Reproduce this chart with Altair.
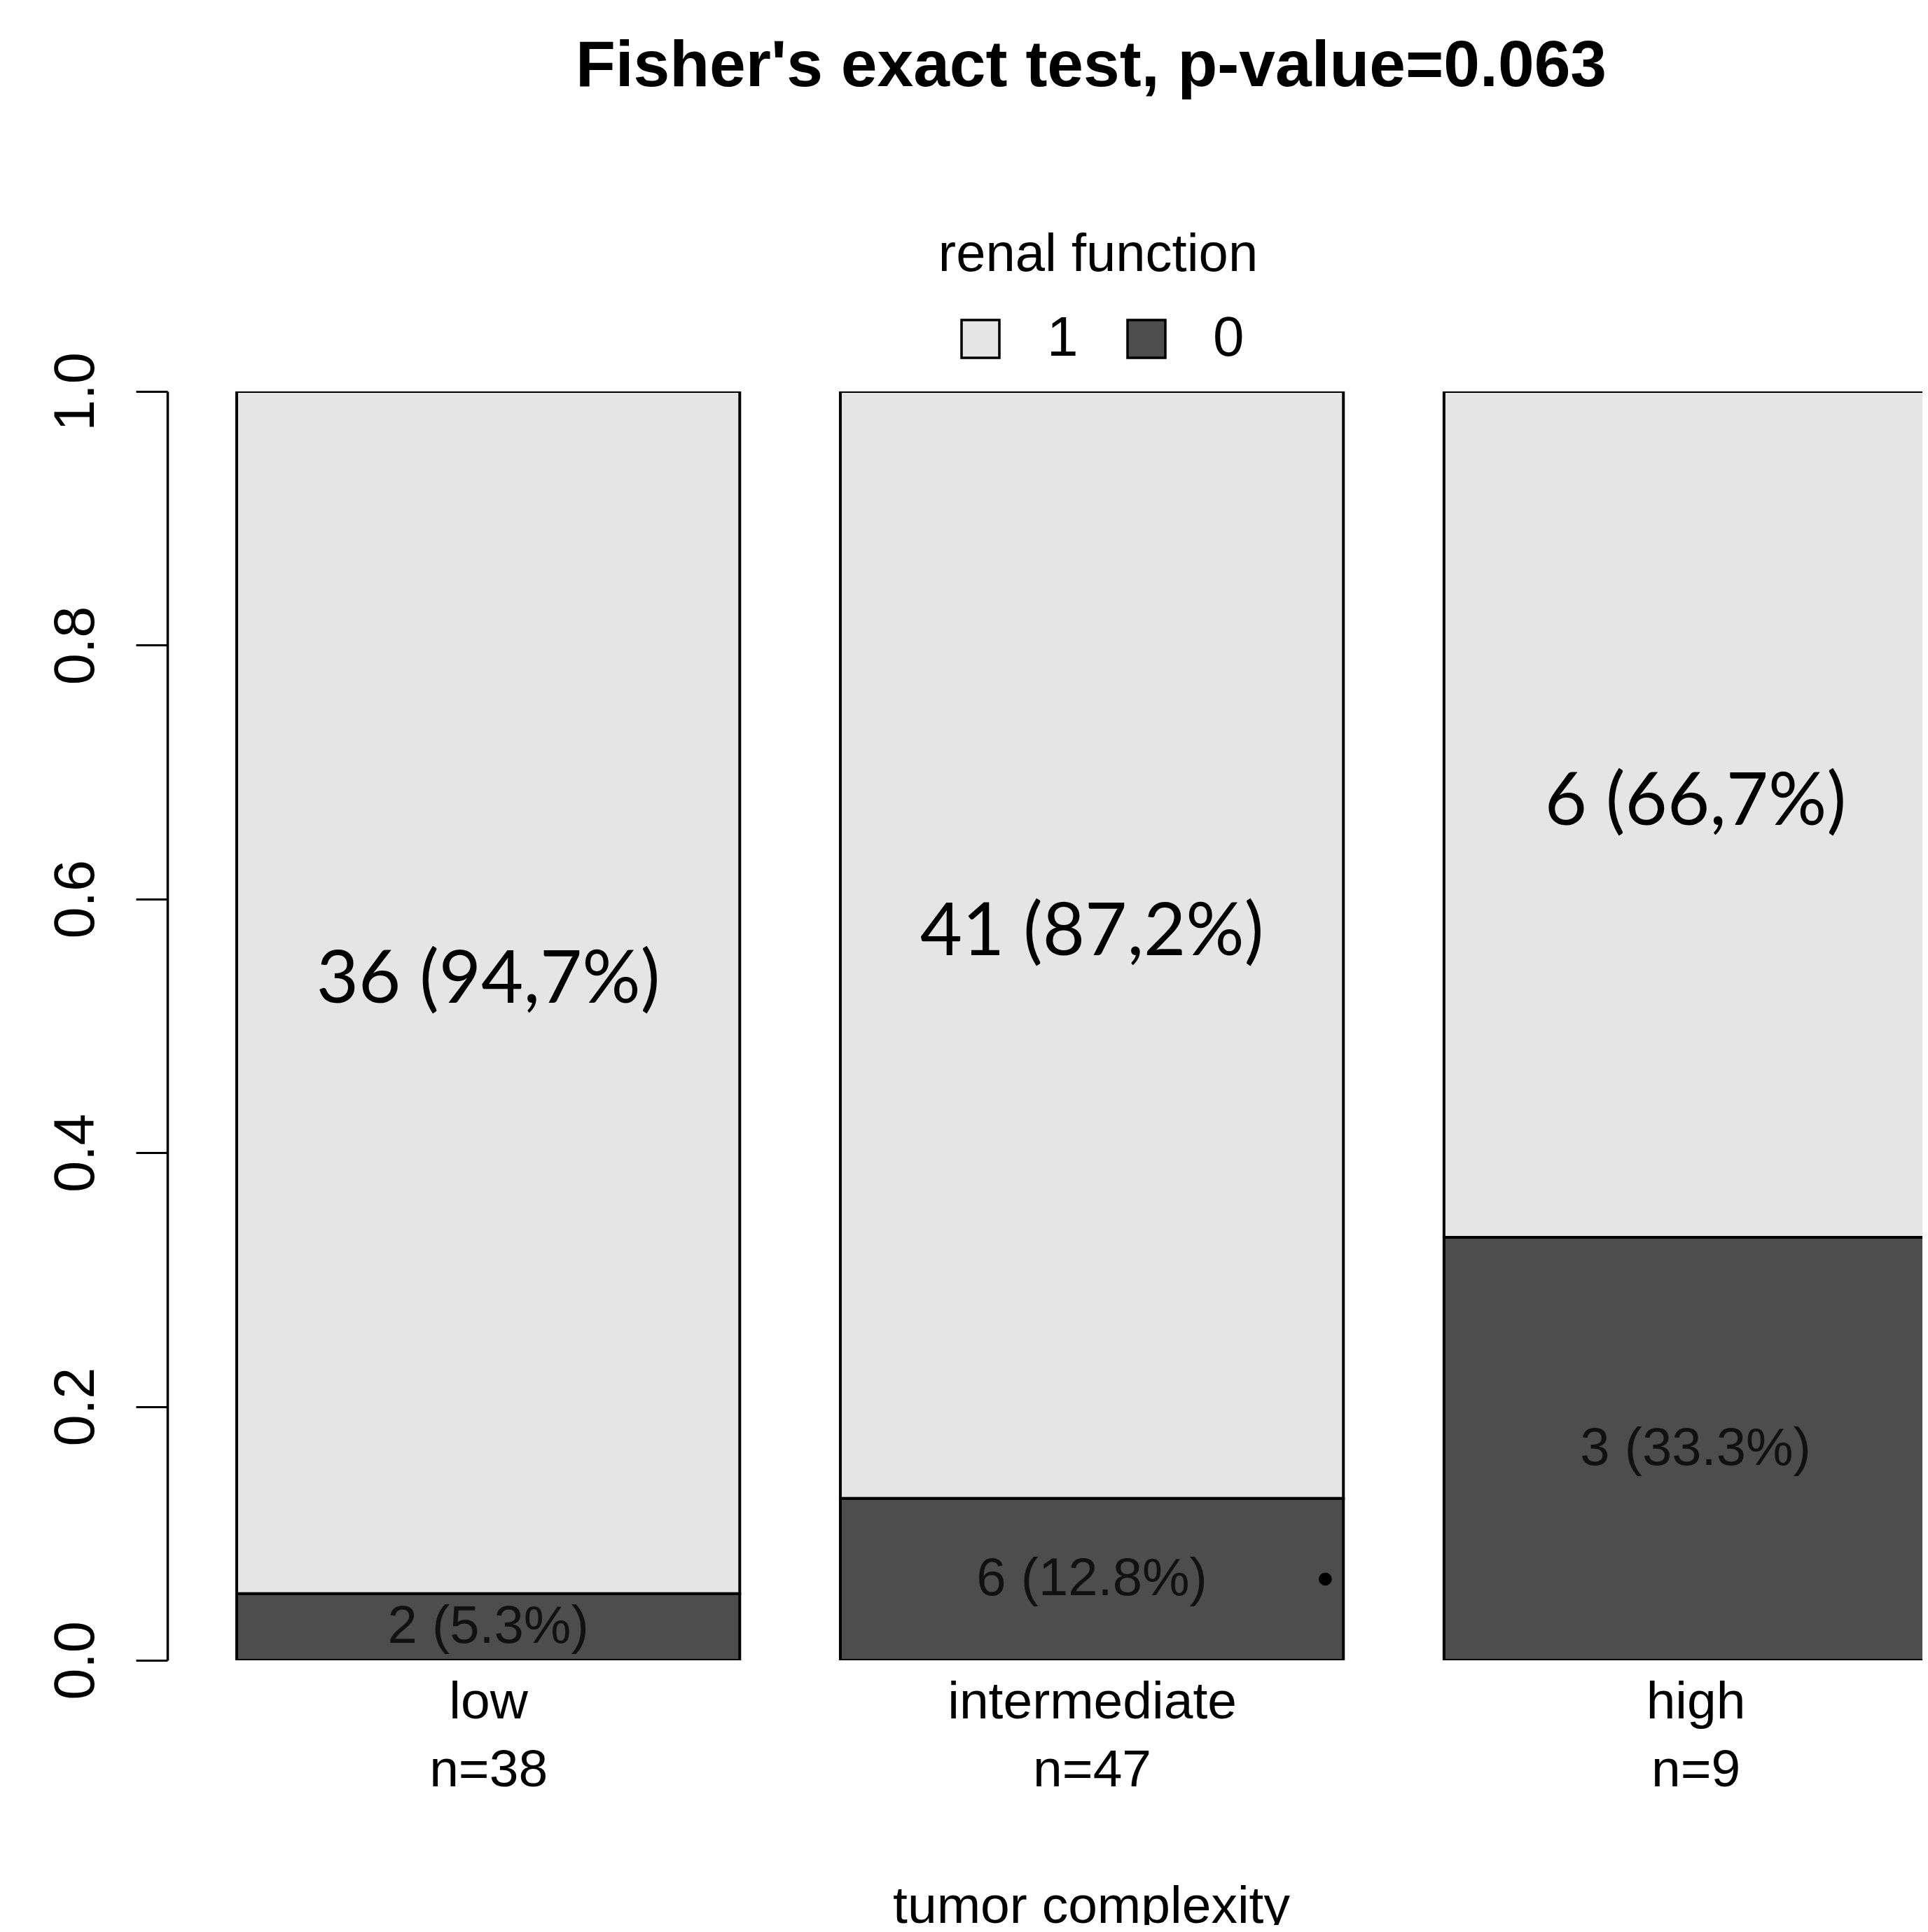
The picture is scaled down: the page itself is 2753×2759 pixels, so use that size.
import altair as alt
import pandas as pd

# ---- data ----
categories = ["low", "intermediate", "high"]
n_total = [38, 47, 9]
count_1 = [36, 41, 6]
count_0 = [2, 6, 3]
label_1 = ["36 (94,7%)", "41 (87,2%)", "6 (66,7%)"]
label_0 = ["2 (5.3%)", "6 (12.8%)", "3 (33.3%)"]
status_levels = ["1", "0"]
status_colors = ["#E5E5E5", "#4D4D4D"]
y_ticks = [0.0, 0.2, 0.4, 0.6, 0.8, 1.0]
dot_x = [2.364]
dot_y = [0.064]

# barplot layout (bar width 1, space 0.2 as in R's barplot)
BAR_W = 1.0
SPACE = 0.2

rows = []
centers = []
for i, cat in enumerate(categories):
    left = SPACE + i * (BAR_W + SPACE)
    centers.append(round(left + BAR_W / 2, 4))
    f0 = count_0[i] / n_total[i]
    f1 = (count_0[i] + count_1[i]) / n_total[i]
    rows.append(dict(cat=cat, status="0", x=left, x2=left + BAR_W, y=0.0, y2=f0,
                     ymid=f0 / 2, xmid=left + BAR_W / 2, label=label_0[i]))
    rows.append(dict(cat=cat, status="1", x=left, x2=left + BAR_W, y=f0, y2=f1,
                     ymid=(f0 + f1) / 2, xmid=left + BAR_W / 2, label=label_1[i]))
df = pd.DataFrame(rows)
dots = pd.DataFrame({"x": dot_x, "y": dot_y})

label_expr = " : ".join(
    f"abs(datum.value - {c}) < 0.01 ? ['{cat}', 'n={n}']"
    for c, cat, n in zip(centers, categories, n_total)
) + " : ''"

FONT = "Liberation Sans"
x_scale = alt.Scale(domain=[0.0622, 3.551], nice=False, zero=False)
y_scale = alt.Scale(domain=[0, 1], nice=False, zero=True)

x_axis = alt.Axis(values=centers, labelExpr=label_expr, title="tumor complexity",
                  domain=False, ticks=False, tickSize=0, grid=False,
                  labelFont=FONT, labelFontSize=75, labelColor="black",
                  labelBaseline="top", labelPadding=23, labelLineHeight=97,
                  labelFlush=False, labelOverlap=False, labelLimit=2000,
                  titleFont=FONT, titleFontSize=75, titleFontWeight="normal",
                  titleColor="black", titleX=1319, titleY=374, titleLimit=3000,
                  titleBaseline="alphabetic", titleAlign="center")
y_axis = alt.Axis(values=y_ticks, format=".1f", title=None, grid=False,
                  labelAngle=270, labelAlign="center", labelBaseline="alphabetic",
                  labelPadding=61, tickSize=45, tickWidth=3, tickColor="black",
                  domainWidth=3.5, domainColor="black", labelLimit=2000,
                  labelFont=FONT, labelFontSize=81, labelColor="black",
                  labelFlush=False, labelOverlap=False)

legend = alt.Legend(orient="none", legendX=1101, legendY=-232, direction="horizontal",
                    title="renal function", titleFont=FONT, titleFontSize=76,
                    titleFontWeight="normal", titleColor="black", titleAnchor="middle",
                    titleAlign="center", titleBaseline="top", titlePadding=41,
                    titleOrient="top", titleLimit=3000, labelLimit=2000,
                    labelFont=FONT, labelFontSize=80, labelColor="black",
                    labelOffset=55, columnPadding=57, labelBaseline="middle",
                    symbolType="square", symbolSize=2916, symbolStrokeColor="black",
                    symbolStrokeWidth=3.5, symbolOpacity=1, padding=0)

base = alt.Chart(df)

bars = base.mark_rect(stroke="black", strokeWidth=4, clip=True).encode(
    x=alt.X("x:Q", scale=x_scale, axis=x_axis),
    x2="x2:Q",
    y=alt.Y("y:Q", scale=y_scale, axis=y_axis),
    y2="y2:Q",
    color=alt.Color("status:N", scale=alt.Scale(domain=status_levels, range=status_colors),
                    legend=legend),
)

light_text = base.transform_filter(alt.datum.status == "1").mark_text(
    font="Lato", fontSize=104, baseline="middle", align="center", dy=-16, color="black"
).encode(x=alt.X("xmid:Q", scale=x_scale), y=alt.Y("ymid:Q", scale=y_scale), text="label:N")

dark_text = base.transform_filter(alt.datum.status == "0").mark_text(
    font=FONT, fontSize=76, baseline="middle", align="center", color="#111111"
).encode(x=alt.X("xmid:Q", scale=x_scale), y=alt.Y("ymid:Q", scale=y_scale), text="label:N")

dot = alt.Chart(dots).mark_circle(size=346, color="black", opacity=1).encode(
    x=alt.X("x:Q", scale=x_scale), y=alt.Y("y:Q", scale=y_scale)
)

chart = alt.layer(bars, light_text, dark_text, dot).properties(
    width=2506,
    height=1812,
    padding={"left": 231, "top": 551, "right": 0, "bottom": 378},
    autosize=alt.AutoSizeParams(type="none"),
    background="white",
    title=alt.Title("Fisher's exact test, p-value=0.063", font=FONT, fontSize=93,
                    fontWeight="bold", color="black", anchor="middle", dx=66,
                    frame="group", baseline="alphabetic", offset=111, limit=4000),
).configure_view(stroke=None)

chart.save("out.html", embed_options={"renderer": "svg", "actions": False})
